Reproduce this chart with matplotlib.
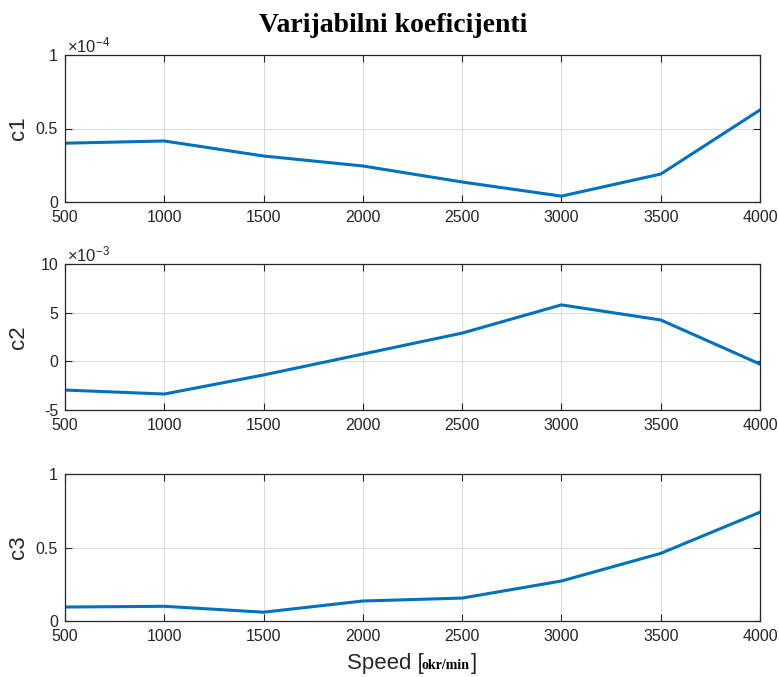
import numpy as np
import matplotlib
matplotlib.use('Agg')
from matplotlib import pyplot as plt

speed = [500, 1000, 1500, 2000, 2500, 3000, 3500, 4000]
# values in units of the axis multiplier (x1e-4, x1e-3, x1)
c1 = [0.40, 0.415, 0.313, 0.245, 0.136, 0.04, 0.19, 0.626]
c2 = [-2.95, -3.36, -1.4, 0.75, 2.9, 5.8, 4.25, -0.28]
c3 = [0.095, 0.10, 0.06, 0.136, 0.156, 0.272, 0.46, 0.74]
names = ['c1', 'c2', 'c3']
exps = ['-4', '-3', None]
ylims = [(0, 1), (-5, 10), (0, 1)]
yticks = [[0, 0.5, 1], [-5, 0, 5, 10], [0, 0.5, 1]]
ytlabels = [['0', '0.5', '1'], ['-5', '0', '5', '10'], ['0', '0.5', '1']]
xticks = speed

plt.rcParams['font.family'] = 'Liberation Sans'
plt.rcParams['mathtext.fontset'] = 'custom'
plt.rcParams['mathtext.rm'] = 'Liberation Sans'
plt.rcParams['mathtext.it'] = 'Liberation Sans'

W, H = 779, 677
fig = plt.figure(figsize=(W/100, H/100), dpi=100)
gray = '#262626'

# axes boxes in pixels: left, top, right, bottom
boxes = [(65, 55, 760, 202), (65, 264, 760, 410), (65, 474, 760, 621)]
data = [c1, c2, c3]

for i in range(3):
    l, t, r, b = boxes[i]
    ax = fig.add_axes([l/W, 1-b/H, (r-l)/W, (b-t)/H])
    ax.plot(speed, data[i], color='#0072BD', lw=2.2)
    ax.set_xlim(500, 4000)
    ax.set_ylim(*ylims[i])
    ax.set_xticks(xticks)
    ax.set_yticks(yticks[i])
    ax.set_yticklabels(ytlabels[i])
    ax.grid(True, color='#dcdcdc', lw=0.8)
    ax.set_axisbelow(True)
    ax.tick_params(direction='in', length=5, width=0.8, colors=gray,
                   labelsize=11.5, top=True, right=True)
    ax.tick_params(axis='x', pad=6)
    ax.tick_params(axis='y', pad=5)
    for sp in ax.spines.values():
        sp.set_color(gray)
        sp.set_linewidth(0.9)
    ax.set_ylabel(names[i], fontsize=16, color=gray)
    ax.yaxis.set_label_coords((29-l)/(r-l), 0.5)
    if exps[i]:
        ax.text(0.003, 1.0, r'$\times10^{%s}$' % exps[i], transform=ax.transAxes,
                fontsize=12, color=gray, va='bottom', ha='left')

fig.text(393/W, 1-25/H, 'Varijabilni koeficijenti', family='Liberation Serif',
         weight='bold', fontsize=20, ha='center', va='center', color='black')

# x label pieces: "Speed [" + small bold serif unit + "]"
ly = 1-664/H
fig.text(347/W, ly, 'Speed [', fontsize=16, color=gray, ha='left', va='center')
fig.text(421/W, ly-0.002, 'okr/min', family='Liberation Serif', weight='bold',
         fontsize=10, color='black', ha='left', va='center')
fig.text(471/W, ly, ']', fontsize=16, color=gray, ha='left', va='center')

plt.savefig('out.png', dpi=100)
